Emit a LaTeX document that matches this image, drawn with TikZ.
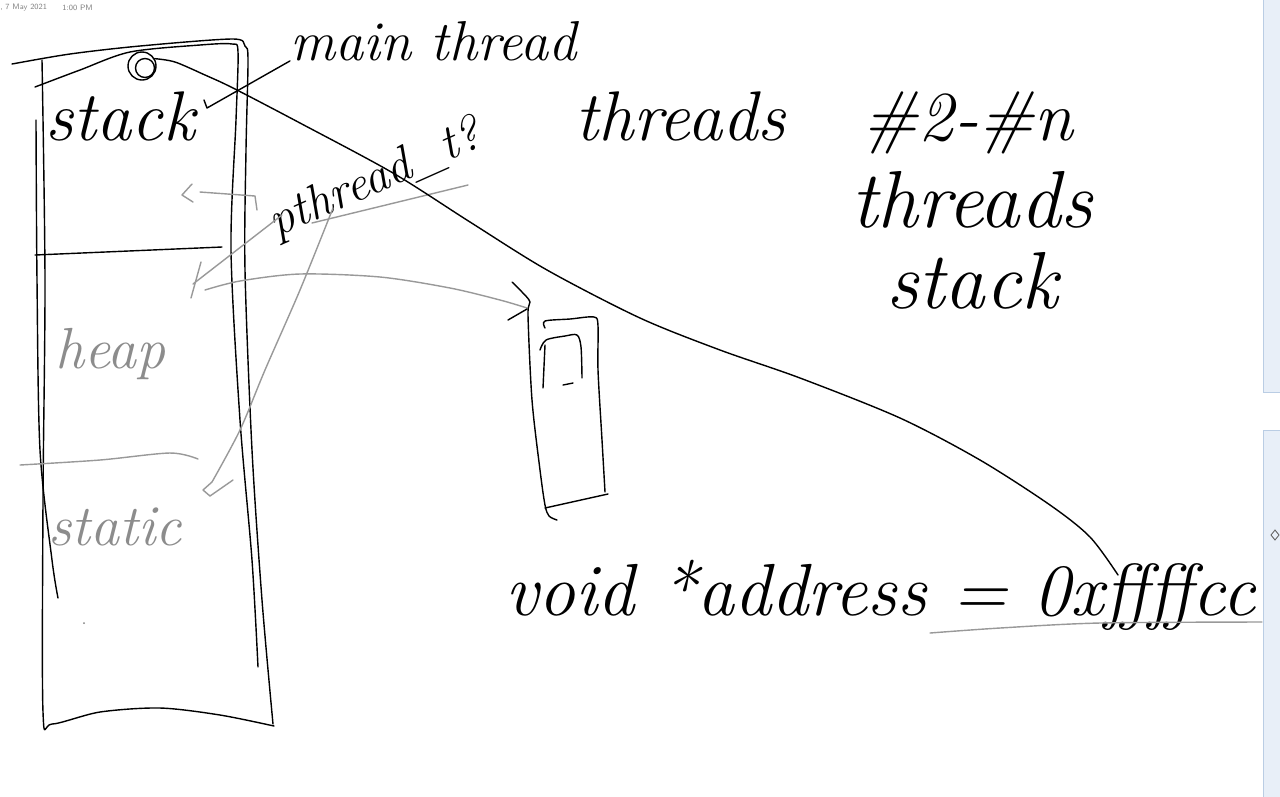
\documentclass[tikz,border=0pt]{standalone}
\usepackage{fontspec}
\usetikzlibrary{positioning}
\definecolor{barfill}{HTML}{E8EFF8}
\definecolor{barline}{HTML}{BACDE4}
\tikzset{
  ink/.style={black, line width=0.8pt, line cap=round, line join=round},
  pale/.style={black!40, line width=0.8pt, line cap=round, line join=round},
  hand/.style={inner sep=0pt, font=\itshape\fontsize{#1}{#1}\selectfont},
  stamp/.style={inner sep=0pt, text=black!50, font=\sffamily\fontsize{4.5}{5}\selectfont},
}

\begin{document}
\begin{tikzpicture}[x=0.02cm,y=-0.02cm]
\useasboundingbox (0,0) rectangle (1280,796);
\fill[white] (0,0) rectangle (1280,796);

% header and scroll bar
\node[stamp,anchor=west] (date) at (0,8) {, 7 May 2021};
\node[stamp,anchor=west] (time) at (62,8) {1:00 PM};
\draw[fill=barfill,draw=barline] (1263,-2) rectangle (1282,392);
\draw[fill=barfill,draw=barline] (1263,430) rectangle (1282,798);
\draw[black!60,line width=0.5pt] (1275,530) -- (1279,535) -- (1275,540) -- (1271,535) -- cycle;

% memory layout box
\draw[ink] plot[smooth] coordinates {(12,64) (70,54) (140,46) (232,39) (245,46) (248,60) (246,150) (245,270) (252,450) (262,600) (273,724)};
\draw[ink] plot[smooth] coordinates {(35,87) (80,70) (130,52) (200,45) (232,44) (238,52) (236,120) (231,250) (240,420) (252,560) (258,667)};
\draw[ink] plot[smooth] coordinates {(36,120) (37,280) (40,450) (52,560) (58,598)};
\draw[ink] plot[smooth] coordinates {(42,60) (45,280) (43,500) (43,712) (52,724) (100,712) (160,708) (220,715) (274,726)};
\draw[ink] (35,255) -- (222,247);
\draw[pale] plot[smooth] coordinates {(20,465) (100,460) (170,453) (198,459)};
\fill[black!50] (84,623) circle[radius=0.02cm];

\node[hand=40,anchor=base west] (stacklbl) at (45,140) {stack};
\node[hand=33,anchor=base west,text=black!45] (heaplbl) at (55,368) {heap};
\node[hand=33,anchor=base west,text=black!45] (staticlbl) at (48,545) {static};

% main thread
\node[circle,draw,line width=0.8pt,minimum size=0.56cm,inner sep=0pt] (mt) at (142,66) {};
\draw[ink] (145,68) circle[radius=0.19cm];
\node[hand=32,anchor=base west] (mainlbl) at (290,60) {main thread};
\coordinate (stk) at (207,108);
\draw[ink] (stk) ++(-3,-8) -- (stk) -- (mainlbl.south west);

% pthread_t
\node[hand=28,anchor=base west,rotate=24] (ptlbl) at (276,238) {pthread\_t?};
\draw[pale] (312,223) -- (468,185);
\draw[pale] (257,210) -- (255,196) -- (200,192);
\draw[pale] (192,184) -- (182,195) -- (193,202);
\draw[pale] (282,215) -- (193,284);
\draw[pale] (201,262) -- (191,298);
\draw[pale] plot[smooth] coordinates {(333,208) (300,290) (265,370) (240,430) (212,482)} -- (203,490) -- (210,496) -- (233,480);

% heap to thread stack
\draw[pale] plot[smooth] coordinates {(205,290) (240,281) (300,274) (380,277) (450,288) (500,300) (527,308)};
\draw[ink] plot[smooth] coordinates {(512,282) (522,292) (530,302) (528,315) (532,400) (540,470) (545,505) (549,516) (557,520)};
\draw[ink] (508,320) -- (527,309);
\draw[ink] plot[smooth] coordinates {(545,328) (545,321) (570,319) (594,317) (598,326) (598,370) (602,440) (605,492)};
\draw[ink] (545,508) -- (608,494);
\draw[ink] plot[smooth] coordinates {(540,350) (546,340) (565,336) (577,335) (581,347) (582,378)};
\draw[ink] (545,345) -- (543,388);
\draw[ink] (563,385) -- (573,383);

% other threads
\node[hand=40,anchor=base west] (thrlbl) at (575,140) {threads\hspace{1.1em}\#2-\#n};
\node[hand=46,align=center] (tslbl) at (972,240) {threads\\stack};

% address
\node[hand=42,anchor=base west] (addr) at (505,615) {void *address = 0xffffcc};
\coordinate (tail) at (1118,575);
\draw[ink] plot[smooth] coordinates {(mt.30) (175,62) (205,75) (233,88) (300,123) (393,173) (470,222) (547,270) (640,318) (720,350) (800,378) (900,418) (980,460) (1050,505) (1090,537) (tail)};
\draw[pale] plot[smooth] coordinates {(930,633) (1000,628) (1100,623) (1262,622)};

\end{tikzpicture}
\end{document}
